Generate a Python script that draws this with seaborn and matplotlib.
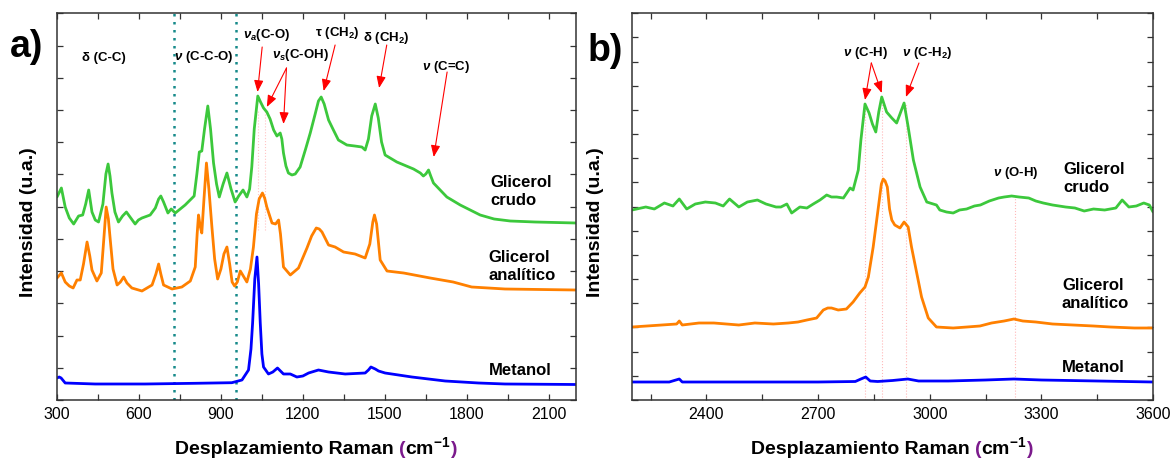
import numpy as np
import pandas as pd
import seaborn as sns
import matplotlib.pyplot as plt
import matplotlib.transforms as mtransforms

# ---- panel a: 300-2200 cm-1 (intensities in arbitrary units) ----
raman_a_crudo = [300, 316, 330, 345, 361, 379, 394, 405, 416, 428, 440, 452, 468, 479, 487, 494,
                 501, 512, 525, 540, 554, 570, 586, 598, 611, 641, 660, 672, 680, 690, 706, 718,
                 733, 769, 802, 812, 821, 830, 840, 852, 862, 873, 884, 894, 908, 922, 937, 952,
                 965, 981, 995, 1005, 1013, 1022, 1035, 1045, 1056, 1068, 1080, 1093, 1105, 1117,
                 1123, 1129, 1138, 1147, 1160, 1172, 1190, 1210, 1227, 1245, 1257, 1267, 1278,
                 1294, 1310, 1330, 1361, 1390, 1416, 1428, 1440, 1452, 1465, 1476, 1488, 1501,
                 1544, 1605, 1630, 1641, 1650, 1660, 1668, 1678, 1727, 1776, 1849, 1900, 1959,
                 2050, 2200]
int_a_crudo = [197, 206, 187, 176, 170, 178, 179, 190, 204, 182, 174, 172, 190, 220, 230, 218,
               201, 182, 172, 178, 182, 176, 170, 174, 176, 179, 186, 195, 198, 192, 181, 185,
               181, 189, 198, 220, 242, 243, 265, 288, 265, 231, 210, 197, 210, 221, 205, 192,
               198, 204, 197, 205, 227, 265, 298, 292, 286, 282, 275, 264, 258, 261,
               255, 241, 228, 221, 219, 220, 227, 245, 261, 280, 293, 297, 290,
               274, 265, 254, 249, 248, 247, 244, 255, 278, 290, 276, 252, 239,
               232, 225, 221, 218, 220, 224, 218, 211, 197, 189, 179, 175, 173,
               172, 171]

raman_a_analitico = [300, 316, 330, 345, 359, 373, 385, 397, 410, 420, 428, 446, 462, 470, 480,
                     488, 495, 505, 520, 532, 544, 556, 574, 611, 648, 662, 672, 680, 690, 721,
                     757, 788, 806, 813, 818, 824, 830, 838, 847, 856, 867, 877, 888, 900, 911,
                     922, 932, 941, 950, 960, 971, 982, 995, 1008, 1019, 1030, 1040, 1052, 1060,
                     1068, 1087, 1100, 1111, 1118, 1129, 1154, 1184, 1215, 1232, 1249, 1260,
                     1270, 1294, 1318, 1349, 1391, 1428, 1445, 1456, 1462, 1470, 1483, 1508,
                     1569, 1666, 1750, 1818, 1940, 2200]
int_a_analitico = [116, 121, 112, 108, 106, 114, 114, 130, 152, 138, 124, 113, 121, 150, 187,
                   175, 154, 125, 109, 112, 117, 111, 106, 103, 109, 120, 130, 120, 109, 105,
                   107, 113, 127, 160, 179, 168, 161, 195, 231, 205, 167, 135, 115, 125, 140,
                   147, 130, 112, 108, 112, 123, 118, 112, 125, 147, 180, 195, 201, 196,
                   187, 171, 170, 174, 160, 127, 119, 126, 146, 158, 166, 165,
                   162, 149, 147, 142, 140, 136, 150, 172, 179, 170, 134, 123,
                   121, 116, 112, 107, 105, 104]

raman_a_metanol = [300, 308, 315, 330, 440, 623, 806, 940, 977, 1001, 1010, 1016, 1024, 1032,
                   1038, 1044, 1050, 1056, 1074, 1090, 1107, 1118, 1129, 1154, 1178, 1200, 1221,
                   1257, 1294, 1355, 1428, 1440, 1449, 1465, 1477, 1501, 1599, 1721, 1843, 1940,
                   2200]
int_a_metanol = [16, 17, 16, 11, 10, 10, 10.7, 11.3, 14, 24, 45, 71, 115, 137,
                 110, 71, 40, 27, 20, 22, 26, 23, 20, 20, 17, 18, 21,
                 24, 22, 20, 21, 24, 27, 25, 23, 21, 17, 13, 11, 10,
                 9.5]

# ---- panel b: 2200-3600 cm-1 ----
raman_b_crudo = [2200, 2237, 2260, 2287, 2310, 2327, 2347, 2370, 2397, 2424, 2445, 2462, 2487,
                 2510, 2537, 2560, 2587, 2600, 2616, 2629, 2651, 2670, 2687, 2705, 2723, 2736,
                 2750, 2768, 2786, 2794, 2808, 2815, 2826, 2837, 2846, 2855, 2863, 2871, 2884,
                 2898, 2911, 2920, 2931, 2942, 2956, 2974, 2992, 3018, 3027, 3045, 3063, 3080,
                 3099, 3120, 3136, 3160, 3185, 3200, 3220, 3240, 3266, 3285, 3305, 3330, 3365,
                 3390, 3415, 3440, 3470, 3500, 3517, 3535, 3555, 3575, 3590, 3600]
int_b_crudo = [184, 187, 185, 191, 188, 195, 185, 190, 192, 191, 188, 195, 187,
               192, 194, 190, 187, 187, 190, 181, 187, 186, 190, 194, 199, 197,
               197, 196, 206, 204, 224, 254, 290, 281, 270, 262, 282, 297, 282,
               276, 271, 280, 291, 267, 234, 207, 192, 189, 184, 182, 181, 184,
               185, 188, 189, 193, 196, 197, 198, 197, 196, 193, 191, 189, 187,
               186, 183, 185, 184, 186, 194, 187, 188, 191, 189, 182]

raman_b_analitico = [2200, 2240, 2280, 2320, 2327, 2335, 2380, 2420, 2487, 2530, 2580, 2620,
                     2646, 2670, 2696, 2714, 2726, 2736, 2754, 2776, 2794, 2812, 2826, 2835,
                     2848, 2862, 2870, 2875, 2880, 2886, 2892, 2898, 2906, 2920, 2931, 2942,
                     2951, 2965, 2978, 2996, 3018, 3063, 3100, 3135, 3166, 3200, 3226, 3250,
                     3285, 3330, 3385, 3440, 3485, 3550, 3600]
int_b_analitico = [67, 68, 69, 70, 73, 69, 71, 71, 69, 71, 70, 71,
                   72, 74, 76, 84, 86, 86, 84, 85, 92, 101, 107, 117,
                   147, 187, 210, 215, 213, 207, 185, 174, 169, 166, 172, 167,
                   147, 121, 97, 76, 67, 66, 67, 68, 71, 73, 75, 73,
                   72, 70, 69, 68, 67, 66, 66]

raman_b_metanol = [2200, 2300, 2327, 2335, 2500, 2700, 2800, 2815, 2828, 2840, 2860, 2900,
                   2941, 2970, 3050, 3150, 3226, 3300, 3450, 3600]
int_b_metanol = [12, 12, 15, 12, 12, 12, 12.5, 15, 17, 13, 12.5, 13.5,
                 15, 13, 13, 14, 15, 14, 13, 12]

sample_names = ["Glicerol\ncrudo", "Glicerol\nanalítico", "Metanol"]
sample_colors = ["#3cc83c", "#ff8000", "#0000ff"]

# band assignments: (label, text pos, arrow start, arrow ends)
bands_a = [
    ("δ (C-C)", (470, 336), None, []),
    (r"$\nu$ (C-C-O)", (838, 337), None, []),
    (r"$\nu_a$(C-O)", (1066, 359), (1051, 347), [(1034, 302)]),
    (r"$\nu_s$(C-OH)", (1190, 339), (1140, 326), [(1068, 287), (1129, 270)]),
    ("τ (CH$_2$)", (1325, 361), (1318, 349), [(1276, 303)]),
    ("δ (CH$_2$)", (1507, 356), (1507, 349), [(1479, 306)]),
    (r"$\nu$ (C=C)", (1724, 327), (1728, 322), [(1679, 237)]),
]
bands_b = [
    (r"$\nu$ (C-H)", (2826, 341), (2843, 331), [(2826, 294), (2871, 301)]),
    (r"$\nu$ (C-H$_2$)", (2993, 341), (2971, 331), [(2936, 297)]),
    (r"$\nu$ (O-H)", (3230, 221), None, []),
]
region_lines_a = [727, 955]
guide_lines_b = [(2826, 290), (2871, 297), (2936, 291), (3230, 198)]

sns.set_style("ticks")
plt.rcParams["font.family"] = ["Liberation Sans", "DejaVu Sans"]
plt.rcParams["mathtext.fontset"] = "custom"
plt.rcParams["mathtext.rm"] = "Liberation Sans:bold"
plt.rcParams["mathtext.bf"] = "Liberation Sans:bold"
plt.rcParams["mathtext.it"] = "Liberation Sans:bold:italic"
plt.rcParams["text.color"] = "black"
plt.rcParams["axes.labelcolor"] = "black"
plt.rcParams["xtick.color"] = "black"
plt.rcParams["ytick.color"] = "black"

fig = plt.figure(figsize=(11.73, 4.62), dpi=100)
ax_a = fig.add_axes([0.0486, 0.1342, 0.4425, 0.837])
ax_b = fig.add_axes([0.5388, 0.1342, 0.4442, 0.837])

series_a = [(raman_a_crudo, int_a_crudo), (raman_a_analitico, int_a_analitico),
            (raman_a_metanol, int_a_metanol)]
series_b = [(raman_b_crudo, int_b_crudo), (raman_b_analitico, int_b_analitico),
            (raman_b_metanol, int_b_metanol)]

for ax, series in [(ax_a, series_a), (ax_b, series_b)]:
    for (x, y), name, col in zip(series, sample_names, sample_colors):
        df = pd.DataFrame({"raman": x, "intensidad": y})
        sns.lineplot(data=df, x="raman", y="intensidad", color=col, lw=2.0,
                     sort=False, ax=ax, legend=False)

# dotted region limits in panel a
for xv in region_lines_a:
    ax_a.axvline(xv, color="#168a8a", lw=1.8, ls=(0, (1, 2.2)), zorder=0)
for xv in [1035, 1060]:
    ax_a.plot([xv, xv], [164, 284], color="#ffc4c4", lw=0.8, ls=":", zorder=0)
for xv, top in guide_lines_b:
    ax_b.plot([xv, xv], [-6, top], color="#ffb8b8", lw=0.8, ls=":", zorder=0)


def draw_bands(ax, bands):
    for label, pos, start, ends in bands:
        ax.text(pos[0], pos[1], label, ha="center", va="center", fontsize=9.5,
                fontweight="bold")
        for end in ends:
            ax.annotate("", xy=end, xytext=start,
                        arrowprops=dict(arrowstyle="-|>,head_length=0.7,head_width=0.28",
                                        color="red", lw=0.8, shrinkA=0, shrinkB=0))


draw_bands(ax_a, bands_a)
draw_bands(ax_b, bands_b)

# sample names at the right of each panel
for ax, xs, ys in [(ax_a, [1885, 1878, 1880], [203, 128, 24]),
                   (ax_b, [3358, 3355, 3355], [216, 100, 27])]:
    for name, x, y in zip(sample_names, xs, ys):
        ax.text(x, y, name, ha="left", va="center", fontsize=12, fontweight="bold",
                linespacing=1.25)

ax_a.set_xlim(300, 2200)
ax_b.set_xlim(2200, 3600)
ax_a.set_xticks(np.arange(300, 2201, 300))
ax_a.set_xticks(np.arange(450, 2200, 300), minor=True)
ax_b.set_xticks(np.arange(2400, 3601, 300))
ax_b.set_xticks(np.arange(2250, 3600, 300), minor=True)
ax_a.set_ylim(-6, 380.7)
ax_b.set_ylim(-6, 380.7)
ax_a.set_yticks(np.linspace(-6, 380.7, 13))
ax_b.set_yticks(np.linspace(-6, 380.7, 17))

for ax in (ax_a, ax_b):
    ax.set_yticklabels([])
    ax.tick_params(which="both", direction="in", top=True, right=True, length=4,
                   width=0.9, color="#333333", labelcolor="black", labelsize=11.5, pad=5)
    for sp in ax.spines.values():
        sp.set_color("#333333")
        sp.set_linewidth(1.1)
    ax.set_xlabel("")
    ax.set_ylabel("Intensidad (u.a.)", fontsize=14, fontweight="bold", color="black")

ax_a.yaxis.set_label_coords(-0.039, 0.46)
ax_b.yaxis.set_label_coords(-0.053, 0.46)


def raman_xlabel(ax, y):
    # x label with purple brackets, built from pieces
    parts = [("Desplazamiento Raman", "black", 0), ("(", "#7b1a8c", 5),
             ("cm$^{-1}$", "black", -1), (")", "#7b1a8c", 1)]
    r = fig.canvas.get_renderer()
    texts, widths, gaps = [], [], []
    for s, c, gap in parts:
        t = ax.text(0, y, s, color=c, transform=ax.transAxes, ha="left", va="baseline",
                    fontsize=14, fontweight="bold")
        texts.append(t)
        widths.append(t.get_window_extent(r).width)
        gaps.append(gap)
    total = sum(widths) + sum(gaps)
    x0 = (ax.get_window_extent(r).width - total) / 2
    off = x0
    for t, w, g in zip(texts, widths, gaps):
        off += g
        t.set_transform(mtransforms.offset_copy(ax.transAxes, fig=fig, x=off, units="dots"))
        off += w


fig.canvas.draw()
raman_xlabel(ax_a, -0.14)
raman_xlabel(ax_b, -0.14)

fig.text(0.0085, 0.876, "a)", fontsize=27, fontweight="bold", va="baseline")
fig.text(0.501, 0.868, "b)", fontsize=27, fontweight="bold", va="baseline")

fig.savefig("out.png", dpi=100)
